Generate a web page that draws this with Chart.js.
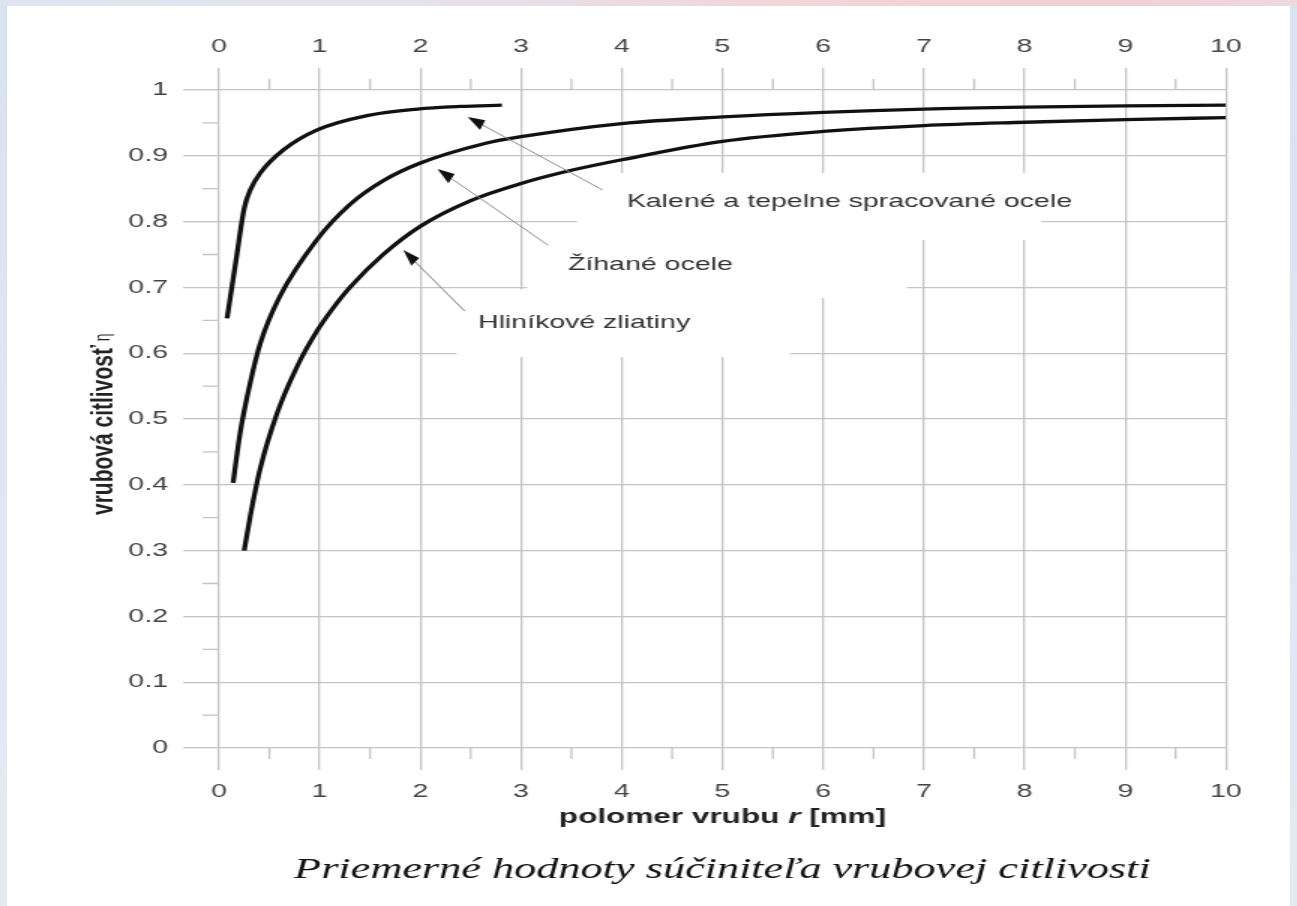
<!DOCTYPE html>
<html>
<head>
<meta charset="utf-8">
<script src="https://cdn.jsdelivr.net/npm/chart.js@4.4.0/dist/chart.umd.min.js"></script>
<style>
  html, body { margin: 0; padding: 0; width: 1297px; height: 906px; overflow: hidden; }
  body { position: relative; background: linear-gradient(to bottom, #d9e2ef, #e3eaf4); }
  #topStrip { position: absolute; left: 0; top: 0; width: 1297px; height: 6px;
    background: linear-gradient(to right, #dde5f0 0%, #e4e2ee 30%, #f2d6da 60%, #f0cfd4 85%, #eed8df 100%); }
  #panel { position: absolute; left: 7px; top: 6px; right: 7px; bottom: 0; background: #fff; }
  #chart { position: absolute; left: 0; top: 0; transform: scaleX(1.5); transform-origin: 0 0; }
</style>
</head>
<body>
<div id="topStrip"></div>
<div id="panel"></div>
<canvas id="chart" width="865" height="906"></canvas>
<script>
  // notch radius r [mm] and notch sensitivity eta
  const kaleneR = [0.08, 0.17, 0.25, 0.31, 0.41, 0.64, 0.97, 1.47, 1.97, 2.4, 2.81];
  const kaleneEta = [0.653, 0.742, 0.82, 0.848, 0.874, 0.909, 0.939, 0.961, 0.971, 0.975, 0.977];

  const zihaneR = [0.14, 0.21, 0.31, 0.41, 0.6, 0.97, 1.3, 1.63, 2, 2.62, 3, 4, 5, 6, 7, 8, 9, 10];
  const zihaneEta = [0.403, 0.479, 0.555, 0.615, 0.685, 0.772, 0.826, 0.862, 0.889, 0.918, 0.929, 0.949, 0.959, 0.966, 0.971, 0.974, 0.976, 0.977];

  const hlinikR = [0.25, 0.31, 0.41, 0.58, 0.77, 0.97, 1.13, 1.3, 1.63, 2, 2.5, 3, 3.5, 4, 5, 6, 7, 8, 9, 10];
  const hlinikEta = [0.30, 0.352, 0.425, 0.51, 0.578, 0.633, 0.668, 0.70, 0.75, 0.793, 0.832, 0.858, 0.878, 0.894, 0.922, 0.937, 0.946, 0.951, 0.955, 0.958];

  const seriesNames = ['Kalené a tepelne spracované ocele', 'Žíhané ocele', 'Hliníkové zliatiny'];

  const xTickLabels = ['0', '1', '2', '3', '4', '5', '6', '7', '8', '9', '10'];
  const yTickLabels = ['0', '0.1', '0.2', '0.3', '0.4', '0.5', '0.6', '0.7', '0.8', '0.9', '1'];
  const xMinor = [0.5, 1.5, 2.5, 3.5, 4.5, 5.5, 6.5, 7.5, 8.5, 9.5];
  const yMinor = [0.05, 0.15, 0.25, 0.35, 0.45, 0.55, 0.65, 0.75, 0.85, 0.95];

  // the source picture is stretched horizontally, the canvas is too
  const S = 1.5;
  const GRID = '#c4c4c4';
  const SANS = '"Liberation Sans", Arial, sans-serif';

  // label callouts in data units: white box behind label, arrow tip/tail, text anchor
  const callouts = [
    {box: [3.555, 8.17, 0.874, 0.772], tip: [2.47, 0.959], tail: [3.81, 0.848], at: [4.05, 0.822]},
    {box: [3.06, 6.83, 0.797, 0.684], tip: [2.17, 0.880], tail: [3.27, 0.764], at: [3.466, 0.726]},
    {box: [2.36, 5.67, 0.697, 0.594], tip: [1.83, 0.757], tail: [2.44, 0.664], at: [2.572, 0.638]}
  ];

  const pts = (xs, ys) => xs.map((r, i) => ({x: r, y: ys[i]}));

  const decorate = {
    id: 'decorate',
    beforeDatasetsDraw(chart) {
      const {ctx, chartArea: a, scales: {x, y}} = chart;
      ctx.save();
      ctx.fillStyle = '#fff';
      callouts.forEach(c => {
        const x0 = x.getPixelForValue(c.box[0]), x1 = x.getPixelForValue(c.box[1]);
        const y0 = y.getPixelForValue(c.box[2]), y1 = y.getPixelForValue(c.box[3]);
        ctx.fillRect(x0, y0, x1 - x0, y1 - y0);
      });
      // minor ticks
      ctx.strokeStyle = GRID;
      ctx.lineWidth = 1.3;
      ctx.beginPath();
      xMinor.forEach(v => {
        const px = x.getPixelForValue(v);
        ctx.moveTo(px, a.top - 11); ctx.lineTo(px, a.top);
        ctx.moveTo(px, a.bottom); ctx.lineTo(px, a.bottom + 11);
      });
      yMinor.forEach(v => {
        const py = y.getPixelForValue(v);
        ctx.moveTo(a.left - 11, py); ctx.lineTo(a.left, py);
      });
      ctx.stroke();
      ctx.restore();
    },
    afterDatasetsDraw(chart) {
      const {ctx, scales: {x, y}} = chart;
      ctx.save();
      callouts.forEach((c, i) => {
        const tx = x.getPixelForValue(c.tip[0]), ty = y.getPixelForValue(c.tip[1]);
        const ex = x.getPixelForValue(c.tail[0]), ey = y.getPixelForValue(c.tail[1]);
        // work in on-screen space so the head keeps its shape after stretching
        const dx = (ex - tx) * S, dy = ey - ty, len = Math.hypot(dx, dy);
        const ux = dx / len, uy = dy / len;
        const hl = 17, hw = 5.5;
        const bx = tx * S + ux * hl, by = ty + uy * hl;
        ctx.strokeStyle = '#888';
        ctx.lineWidth = 1;
        ctx.beginPath();
        ctx.moveTo(bx / S, by);
        ctx.lineTo(ex, ey);
        ctx.stroke();
        ctx.fillStyle = '#111';
        ctx.beginPath();
        ctx.moveTo(tx, ty);
        ctx.lineTo((bx - uy * hw) / S, by + ux * hw);
        ctx.lineTo((bx + uy * hw) / S, by - ux * hw);
        ctx.closePath();
        ctx.fill();

        ctx.fillStyle = '#333';
        ctx.font = '19px ' + SANS;
        ctx.textAlign = 'left';
        ctx.textBaseline = 'alphabetic';
        ctx.fillText(seriesNames[i], x.getPixelForValue(c.at[0]), y.getPixelForValue(c.at[1]));
      });
      ctx.restore();
    },
    afterDraw(chart) {
      const {ctx, chartArea: a} = chart;
      ctx.save();
      ctx.fillStyle = '#222';
      ctx.textBaseline = 'alphabetic';

      // x axis title with italic r
      const parts = [['polomer vrubu ', 'bold '], ['r', 'italic bold '], [' [mm]', 'bold ']];
      let w = 0;
      parts.forEach(p => { ctx.font = p[1] + '21px ' + SANS; w += ctx.measureText(p[0]).width; });
      let cx = (a.left + a.right) / 2 - w / 2;
      ctx.textAlign = 'left';
      parts.forEach(p => {
        ctx.font = p[1] + '21px ' + SANS;
        ctx.fillText(p[0], cx, 823);
        cx += ctx.measureText(p[0]).width;
      });

      // y axis title
      ctx.translate(75, 515);
      ctx.rotate(-Math.PI / 2);
      ctx.font = 'bold 21px ' + SANS;
      const t = 'vrubová citlivosť';
      ctx.fillText(t, 0, 0);
      const tw = ctx.measureText(t).width;
      ctx.font = '14px ' + SANS;
      ctx.fillText(' η', tw, -2);
      ctx.setTransform(1, 0, 0, 1, 0, 0);

      // caption
      ctx.fillStyle = '#111';
      ctx.font = 'italic 29.5px "Liberation Serif", "Times New Roman", serif';
      ctx.textAlign = 'center';
      ctx.fillText('Priemerné hodnoty súčiniteľa vrubovej citlivosti', (a.left + a.right) / 2, 878);
      ctx.restore();
    }
  };

  const lineStyle = {
    borderColor: '#111',
    borderWidth: 3.3,
    pointRadius: 0,
    fill: false,
    cubicInterpolationMode: 'monotone'
  };

  const tickFont = {family: SANS, size: 19};

  new Chart(document.getElementById('chart'), {
    type: 'line',
    data: {
      datasets: [
        {label: seriesNames[0], data: pts(kaleneR, kaleneEta), ...lineStyle},
        {label: seriesNames[1], data: pts(zihaneR, zihaneEta), ...lineStyle},
        {label: seriesNames[2], data: pts(hlinikR, hlinikEta), ...lineStyle}
      ]
    },
    plugins: [decorate],
    options: {
      responsive: false,
      devicePixelRatio: 1,
      animation: false,
      layout: {padding: {left: 0, top: 0, bottom: 0, right: 47.7}},
      plugins: {legend: {display: false}, tooltip: {enabled: false}},
      scales: {
        x: {
          type: 'linear', position: 'bottom', min: 0, max: 10,
          afterFit: s => { s.height = 158; },
          border: {display: false},
          grid: {color: GRID, lineWidth: 1.3, tickLength: 22},
          ticks: {stepSize: 1, color: '#444', font: tickFont, padding: 10,
            callback: v => xTickLabels[Math.round(v)]}
        },
        xTop: {
          type: 'linear', position: 'top', min: 0, max: 10,
          afterFit: s => { s.height = 90; },
          border: {display: false},
          grid: {color: GRID, lineWidth: 1.3, tickLength: 22, drawOnChartArea: false},
          ticks: {stepSize: 1, color: '#444', font: tickFont, padding: 10,
            callback: v => xTickLabels[Math.round(v)]}
        },
        y: {
          type: 'linear', position: 'left', min: 0, max: 1,
          afterFit: s => { s.width = 146; },
          border: {display: false},
          grid: {color: GRID, lineWidth: 1.3, tickLength: 24},
          ticks: {stepSize: 0.1, color: '#444', font: tickFont, padding: 10,
            callback: v => yTickLabels[Math.round(v * 10)]}
        }
      }
    }
  });
</script>
</body>
</html>
